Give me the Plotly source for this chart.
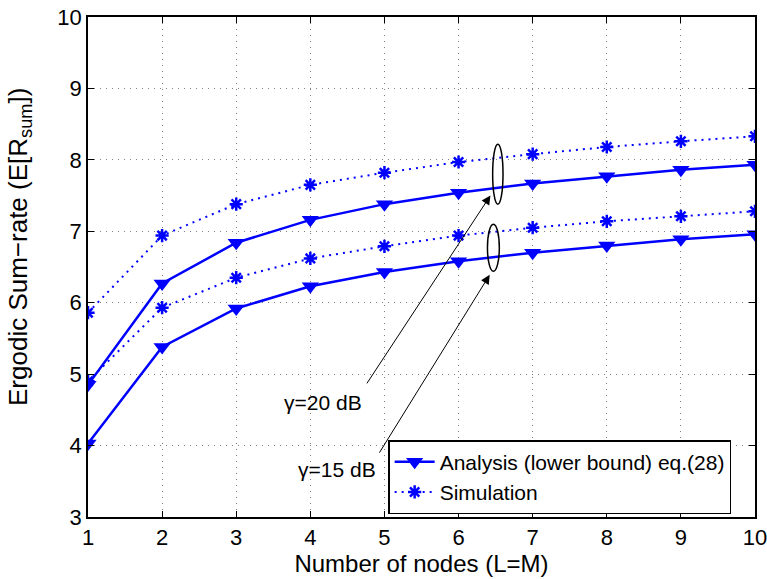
import plotly.graph_objects as go

# Number of nodes (L = M)
nodes = [1, 2, 3, 4, 5, 6, 7, 8, 9, 10]

# Ergodic sum-rate, gamma = 20 dB
analysis_20db = [4.85, 6.27, 6.84, 7.16, 7.38, 7.54, 7.67, 7.77, 7.86, 7.93]
simulation_20db = [5.86, 6.94, 7.38, 7.65, 7.82, 7.97, 8.08, 8.18, 8.26, 8.33]

# Ergodic sum-rate, gamma = 15 dB
analysis_15db = [4.03, 5.38, 5.92, 6.23, 6.43, 6.58, 6.70, 6.80, 6.89, 6.96]
simulation_15db = [4.90, 5.93, 6.35, 6.62, 6.79, 6.94, 7.05, 7.14, 7.21, 7.28]

x_ticks = [1, 2, 3, 4, 5, 6, 7, 8, 9, 10]
y_ticks = [3, 4, 5, 6, 7, 8, 9, 10]

BLUE = "#0000ff"
FONT = "Liberation Sans, Arial, sans-serif"

fig = go.Figure()


def analysis_trace(y, show):
    return go.Scatter(
        x=nodes, y=y, mode="lines+markers",
        name="Analysis (lower bound) eq.(28)", showlegend=show,
        line=dict(color=BLUE, width=2.5),
        marker=dict(symbol="triangle-down", size=15, color=BLUE),
    )


def simulation_trace(y, show):
    return go.Scatter(
        x=nodes, y=y, mode="lines+markers",
        name="Simulation", showlegend=show,
        line=dict(color=BLUE, width=2, dash="2px,5px"),
        marker=dict(symbol="asterisk-open", size=11,
                    line=dict(color=BLUE, width=2.5)),
    )


fig.add_trace(analysis_trace(analysis_20db, True))
fig.add_trace(simulation_trace(simulation_20db, True))
fig.add_trace(analysis_trace(analysis_15db, False))
fig.add_trace(simulation_trace(simulation_15db, False))

# Ellipses grouping the two curve pairs
fig.add_shape(type="circle", xref="x", yref="y",
              x0=6.46, x1=6.60, y0=7.38, y1=8.22,
              line=dict(color="black", width=1.5))
fig.add_shape(type="circle", xref="x", yref="y",
              x0=6.39, x1=6.55, y0=6.44, y1=7.10,
              line=dict(color="black", width=1.5))

# Arrows from the labels to the ellipses
fig.add_annotation(x=6.43, y=7.50, ax=4.75, ay=4.85, xref="x", yref="y",
                   axref="x", ayref="y", text="", showarrow=True,
                   arrowhead=2, arrowsize=1.8, arrowwidth=1, arrowcolor="black")
fig.add_annotation(x=6.42, y=6.39, ax=4.92, ay=3.88, xref="x", yref="y",
                   axref="x", ayref="y", text="", showarrow=True,
                   arrowhead=2, arrowsize=1.8, arrowwidth=1, arrowcolor="black")

fig.add_annotation(x=4.17, y=4.60, xref="x", yref="y", text="γ=20 dB",
                   showarrow=False, font=dict(family=FONT, size=21, color="black"))
fig.add_annotation(x=4.36, y=3.66, xref="x", yref="y", text="γ=15 dB",
                   showarrow=False, font=dict(family=FONT, size=21, color="black"))

# Y axis title
fig.add_annotation(x=(20 - 88) / 667, y=0.54, xref="paper", yref="paper",
                   text="Ergodic Sum−rate (E[R<sub>sum</sub>])",
                   showarrow=False, textangle=-90, xanchor="center", yanchor="middle",
                   font=dict(family=FONT, size=26, color="black"))

axis_common = dict(
    showline=True, linecolor="black", linewidth=1.5, mirror="allticks",
    ticks="inside", ticklen=6, tickcolor="black", tickwidth=1,
    showgrid=True, gridcolor="#7f7f7f", gridwidth=1, griddash="1px,5px",
    zeroline=False, automargin=False, ticklabeloverflow="allow",
    tickfont=dict(family=FONT, size=22, color="black"),
    title_font=dict(family=FONT, size=24, color="black"),
)

fig.update_xaxes(range=[1, 10], tickvals=x_ticks,
                 title_text="Number of nodes (L=M)", title_standoff=4,
                 **axis_common)
fig.update_yaxes(range=[3, 10], tickvals=y_ticks, **axis_common)

fig.update_layout(
    width=767, height=579,
    margin=dict(l=88, r=12, t=17, b=62),
    paper_bgcolor="white", plot_bgcolor="white",
    font=dict(family=FONT, color="black"),
    legend=dict(
        x=0.45, y=0.006, xanchor="left", yanchor="bottom",
        bgcolor="white", bordercolor="black", borderwidth=1.5,
        font=dict(family=FONT, size=21, color="black"),
        tracegroupgap=0, itemwidth=40,
    ),
)

fig.write_html("out.html")
